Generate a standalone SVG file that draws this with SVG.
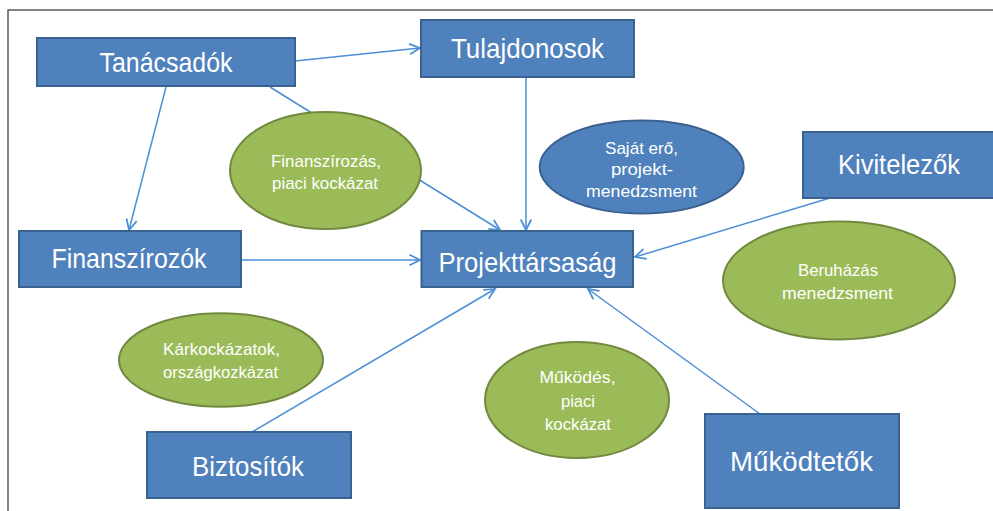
<svg xmlns="http://www.w3.org/2000/svg" width="993" height="511" viewBox="0 0 993 511">
<style>
.box{fill:#4f81bd;stroke:#3a6291;stroke-width:2}
.green{fill:#9bbb59;stroke:#71893f;stroke-width:2}
.blue{fill:#4f81bd;stroke:#3a6291;stroke-width:2}
.big{font-family:"Liberation Sans",Arial,sans-serif;font-size:28px;fill:#ffffff;text-anchor:middle}
.small{font-family:"Liberation Sans",Arial,sans-serif;font-size:17px;fill:#ffffff;text-anchor:middle}
.conn{stroke:#4a8fd4;stroke-width:1.5;fill:none;marker-end:url(#arr)}
</style>
<defs>
<marker id="arr" markerUnits="userSpaceOnUse" markerWidth="14" markerHeight="14" refX="10" refY="5" orient="auto" viewBox="0 0 12 10">
<path d="M1,0.5 L10,5 L1,9.5" fill="none" stroke="#4a8fd4" stroke-width="1.5"/>
</marker>
</defs>
<rect x="0" y="0" width="993" height="511" fill="#ffffff"/>
<rect x="8" y="10" width="1000" height="520" fill="none" stroke="#333333" stroke-width="1.2"/>
<g id="connectors">
<line class="conn" x1="295" y1="61" x2="420" y2="48"/>
<line class="conn" x1="166" y1="87" x2="129" y2="230"/>
<line class="conn" x1="270" y1="87" x2="500" y2="230"/>
<line class="conn" x1="526" y1="77" x2="526" y2="230"/>
<line class="conn" x1="241" y1="260" x2="420" y2="260"/>
<line class="conn" x1="830" y1="198" x2="635" y2="257"/>
<line class="conn" x1="252" y1="432" x2="495" y2="289"/>
<line class="conn" x1="760" y1="414" x2="588" y2="289"/>
</g>
<g id="tanacsadok">
<rect class="box" x="37" y="38" width="258" height="48"/>
<text class="big" x="166" y="72" textLength="133" lengthAdjust="spacingAndGlyphs">Tanácsadók</text>
</g>
<g id="tulajdonosok">
<rect class="box" x="421" y="20" width="213" height="57"/>
<text class="big" x="527.5" y="58" textLength="153" lengthAdjust="spacingAndGlyphs">Tulajdonosok</text>
</g>
<g id="finanszirozok">
<rect class="box" x="19" y="231" width="222" height="56"/>
<text class="big" x="129" y="268" textLength="155" lengthAdjust="spacingAndGlyphs">Finanszírozók</text>
</g>
<g id="projekttarsasag">
<rect class="box" x="421.5" y="231" width="211.5" height="56"/>
<text class="big" x="527.5" y="272" textLength="178" lengthAdjust="spacingAndGlyphs">Projekttársaság</text>
</g>
<g id="kivitelezok">
<rect class="box" x="803" y="132" width="195" height="66"/>
<text class="big" x="899" y="174" textLength="122" lengthAdjust="spacingAndGlyphs">Kivitelezők</text>
</g>
<g id="biztositok">
<rect class="box" x="147" y="432" width="204" height="66"/>
<text class="big" x="248" y="476" textLength="112" lengthAdjust="spacingAndGlyphs">Biztosítók</text>
</g>
<g id="mukodtetok">
<rect class="box" x="705" y="414" width="194" height="94"/>
<text class="big" x="801.5" y="471" textLength="143" lengthAdjust="spacingAndGlyphs">Működtetők</text>
</g>
<g id="finanszirozas">
<ellipse class="green" cx="325.5" cy="170.5" rx="95.5" ry="58.5"/>
<text class="small" x="326" y="167" textLength="110" lengthAdjust="spacingAndGlyphs">Finanszírozás,</text>
<text class="small" x="325" y="189" textLength="106" lengthAdjust="spacingAndGlyphs">piaci kockázat</text>
</g>
<g id="sajat-ero">
<ellipse class="blue" cx="641.7" cy="167" rx="102" ry="46.5"/>
<text class="small" x="641.5" y="154" textLength="73" lengthAdjust="spacingAndGlyphs">Saját erő,</text>
<text class="small" x="642" y="175" textLength="62" lengthAdjust="spacingAndGlyphs">projekt-</text>
<text class="small" x="641.5" y="197" textLength="111" lengthAdjust="spacingAndGlyphs">menedzsment</text>
</g>
<g id="beruhazas">
<ellipse class="green" cx="839" cy="280.5" rx="116" ry="59"/>
<text class="small" x="838" y="276" textLength="80" lengthAdjust="spacingAndGlyphs">Beruházás</text>
<text class="small" x="837.5" y="299" textLength="111" lengthAdjust="spacingAndGlyphs">menedzsment</text>
</g>
<g id="karkockazatok">
<ellipse class="green" cx="221" cy="360" rx="102" ry="46.7"/>
<text class="small" x="221.5" y="355" textLength="117" lengthAdjust="spacingAndGlyphs">Kárkockázatok,</text>
<text class="small" x="220.5" y="378" textLength="115" lengthAdjust="spacingAndGlyphs">országkozkázat</text>
</g>
<g id="mukodes">
<ellipse class="green" cx="577" cy="400" rx="92" ry="58"/>
<text class="small" x="577.5" y="383" textLength="76" lengthAdjust="spacingAndGlyphs">Működés,</text>
<text class="small" x="578" y="407" textLength="34" lengthAdjust="spacingAndGlyphs">piaci</text>
<text class="small" x="578" y="430" textLength="66" lengthAdjust="spacingAndGlyphs">kockázat</text>
</g>
</svg>
